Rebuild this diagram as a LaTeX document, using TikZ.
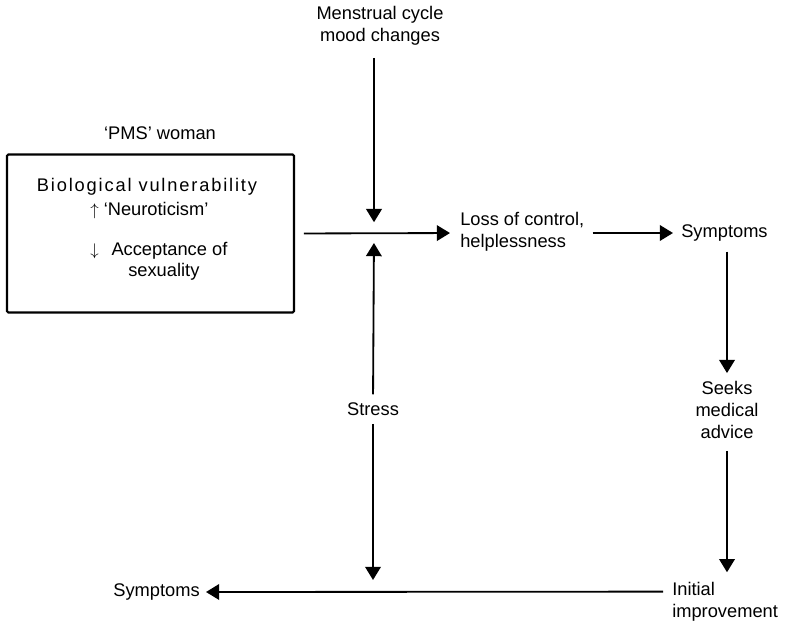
\documentclass[tikz,border=0pt]{standalone}
\usepackage{fontspec}
\setmainfont{Liberation Sans}
\usepackage{tikz}
\usetikzlibrary{arrows.meta}

\begin{document}
\begin{tikzpicture}[
  x=0.025cm, y=-0.025cm,
  lbl/.style={
    inner sep=0pt, align=center, font=\fontsize{13}{15.6}\selectfont,
  },
  flow/.style={
    line width=1.3pt, -{Triangle[length=3.3mm,width=3.9mm]},
  },
]
\useasboundingbox (0,0) rectangle (787,625);

% Left side - the woman
\node[lbl] (pmslbl) at (160,133) {`PMS' woman};
\node[draw, line width=1.5pt, rounded corners=1pt, minimum width=71.75mm, minimum height=39.5mm] (pms) at (150.5,233.5) {};
\node[lbl] (bio) at (147,187) {\addfontfeature{LetterSpace=10}Biological vulnerability};
\node[lbl, anchor=west] (neuro) at (90,211) {$\uparrow$ `Neuroticism'};
\node[lbl, anchor=west] (accept) at (90,251) {$\downarrow$\hspace{0.7em}Acceptance of};
\node[lbl, anchor=west] (sexual) at (128,272) {sexuality};

% Centre - the crossing
\coordinate (hub) at (374,233);
\node[lbl] (mens) at (380,26) {Menstrual cycle\\mood changes};
\node[lbl] (stress) at (373,409) {Stress};
\node[lbl, anchor=west, align=left] (loss) at (460,232) {Loss of control,\\helplessness};

% Right side - the cycle
\node[lbl, anchor=west] (sym1) at (681,233) {Symptoms};
\node[lbl] (seeks) at (727,410) {Seeks\\medical\\advice};
\node[lbl, anchor=west, align=left] (initial) at (672,602) {Initial\\improvement};
\node[lbl, anchor=east] (sym2) at (200,592) {Symptoms};

\draw[flow, shorten <=3mm, shorten >=2.7mm] (hub |- mens.south) -- (hub);
\draw[flow, shorten <=2.2mm, shorten >=2.5mm] (pms.east) -- (loss.west |- hub);
\draw[flow, shorten <=2mm, shorten >=2mm] (loss.east |- hub) -- (sym1.west);
\draw[flow, shorten <=2.5mm, shorten >=2mm] (seeks.north |- sym1.south) -- (seeks.north);
\draw[flow, shorten <=3mm, shorten >=2.5mm] (seeks.south) -- (seeks.south |- initial.north);
\draw[flow, shorten <=2mm, shorten >=2.5mm] (stress.north) -- (hub);
\draw[flow, shorten <=2mm, shorten >=3mm] (stress.south) -- (stress |- sym2);
\draw[flow, shorten <=2.2mm, shorten >=1.5mm] ([yshift=2.6mm]initial.west) -- (sym2.east);

\end{tikzpicture}
\end{document}
